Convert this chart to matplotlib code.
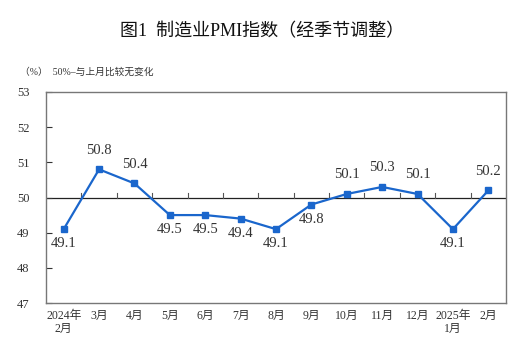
import matplotlib.pyplot as plt

plt.rcParams['font.family'] = ['Liberation Serif', 'Noto Sans CJK SC']

months = ["2024年\n2月", "3月", "4月", "5月", "6月", "7月", "8月", "9月",
          "10月", "11月", "12月", "2025年\n1月", "2月"]
pmi = [49.1, 50.8, 50.4, 49.5, 49.5, 49.4, 49.1, 49.8, 50.1, 50.3, 50.1, 49.1, 50.2]
label_above = [False, True, True, False, False, False, False, False, True, True, True, False, True]


def main() -> None:
    fig = plt.figure(figsize=(5.25, 3.57), dpi=100)
    ax = fig.add_axes([46 / 525, 1 - 303 / 357, 460 / 525, 211 / 357])
    x = list(range(len(pmi)))

    ax.axhline(50, color="#222222", lw=0.9, zorder=1)
    for b in range(len(pmi) - 1):
        ax.plot([b + 0.5, b + 0.5], [50, 50.12], color="#555555", lw=0.8, zorder=1)

    ax.plot(x, pmi, color="#1a66cc", lw=1.6, marker="s", ms=5, zorder=3)
    for i, v in enumerate(pmi):
        if label_above[i]:
            ax.annotate(f"{v:.1f}", (i, v), xytext=(0, 9), textcoords="offset points",
                        ha="center", va="bottom", fontsize=10.5, color="#333333")
        else:
            ax.annotate(f"{v:.1f}", (i, v), xytext=(0, -6), textcoords="offset points",
                        ha="center", va="top", fontsize=10.5, color="#333333")

    ax.set_xlim(-0.5, len(pmi) - 0.5)
    ax.set_ylim(47, 53)
    ax.set_yticks(range(47, 54))
    ax.tick_params(axis="y", direction="in", length=4, labelsize=9, pad=12, colors="#333333")
    ax.set_xticks(x)
    ax.set_xticklabels(months, fontsize=8.5, linespacing=1.1, color="#333333")
    ax.tick_params(axis="x", length=0, pad=5)
    for s in ax.spines.values():
        s.set_color("#777777")
        s.set_linewidth(1.0)

    fig.text(0.5, 1 - 32 / 357, "图1  制造业PMI指数（经季节调整）", ha="center", va="center",
             fontsize=13, fontweight="medium", color="#111111")
    fig.text(20 / 525, 1 - 72 / 357, "（%）  50%–与上月比较无变化", ha="left", va="center",
             fontsize=7, color="#333333")

    fig.savefig("out.png", dpi=100)


if __name__ == "__main__":
    main()
